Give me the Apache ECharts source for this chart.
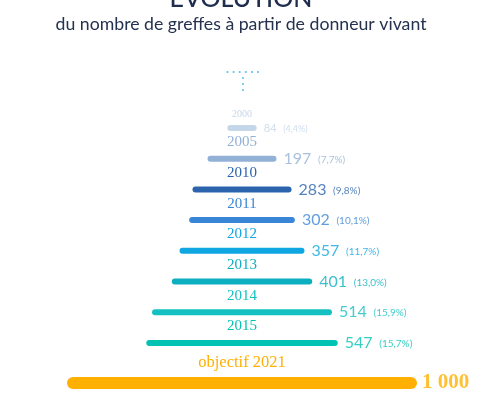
<!DOCTYPE html>
<html>
<head>
<meta charset="UTF-8">
<script src="https://cdn.jsdelivr.net/npm/echarts@6/dist/echarts.min.js"></script>
<title>Évolution</title>
<style>
html, body {
	margin: 0;
	padding: 0;
	background: #ffffff;
}

#main {
	width: 482px;
	height: 398px;
}
</style>
</head>
<body>
	<div id="main"></div>
	<script>
		// données
		var years = [ '2000', '2005', '2010', '2011', '2012', '2013', '2014', '2015' ];
		var counts = [ 84, 197, 283, 302, 357, 401, 514, 547 ];
		var shares = [ '4,4%', '7,7%', '9,8%', '10,1%', '11,7%', '13,0%', '15,9%', '15,7%' ];
		var goalLabel = 'objectif 2021';
		var goalValue = 1000;
		var goalText = '1 000';
		var axisMax = 1000;

		var colors = [ '#c6d6e9', '#93b1d6', '#2b64ad', '#3a86d6', '#0fa6e1',
				'#0cafbf', '#14c1c0', '#02c3b3' ];
		var serifFont = '"Liberation Serif", serif';
		var sansFont = 'Lato, "Noto Sans", sans-serif';

		// décalage pour centrer les barres
		var offsets = counts.map(function(v) {
			return (axisMax - v) / 2;
		});

		var barData = counts.map(function(v, i) {
			var small = i === 0;
			return {
				value : v,
				itemStyle : { color : colors[i] },
				label : {
					color : colors[i],
					fontSize : small ? 10 : 15,
					distance : small ? 6 : 6
				}
			};
		});

		var endData = counts.map(function(v, i) {
			var small = i === 0;
			return {
				value : [ offsets[i] + v, i ],
				label : {
					color : colors[i],
					rich : {
						v : { fontSize : small ? 11 : 16, fontFamily : sansFont, color : colors[i] },
						p : { fontSize : small ? 9 : 10, fontFamily : sansFont, color : colors[i], padding : [ 2, 0, 0, 0 ] }
					}
				}
			};
		});

		var dots = [];
		for (var k = 0; k < 6; k++) {
			dots.push({ type : 'circle', shape : { cx : 227.5 + k * 6.1, cy : 72, r : 1.1 }, style : { fill : '#5ec4ee' } });
		}
		for (var k = 1; k <= 3; k++) {
			dots.push({ type : 'circle', shape : { cx : 243, cy : 72 + k * 6, r : 1.1 }, style : { fill : '#5ec4ee' } });
		}

		var option = {
			animation : false,
			graphic : [ {
				type : 'text',
				left : 'center',
				top : -14,
				style : {
					text : 'ÉVOLUTION',
					font : '500 25px ' + sansFont,
					fill : '#1f2d4e'
				}
			}, {
				type : 'text',
				left : 'center',
				top : 15,
				style : {
					text : 'du nombre de greffes à partir de donneur vivant',
					font : '17.7px ' + sansFont,
					fill : '#24314f'
				}
			} ].concat(dots),
			grid : [ {
				left : 67,
				width : 350,
				top : 112.6,
				height : 245.7
			}, {
				left : 67,
				width : 350,
				top : 368,
				height : 30
			} ],
			xAxis : [ {
				gridIndex : 0,
				type : 'value',
				min : 0,
				max : axisMax,
				show : false
			}, {
				gridIndex : 1,
				type : 'value',
				min : 0,
				max : axisMax,
				show : false
			} ],
			yAxis : [ {
				gridIndex : 0,
				type : 'category',
				inverse : true,
				data : years,
				show : false
			}, {
				gridIndex : 1,
				type : 'category',
				data : [ goalLabel ],
				show : false
			} ],
			series : [ {
				type : 'bar',
				stack : 'rows',
				silent : true,
				barWidth : 6,
				itemStyle : { color : 'transparent' },
				data : offsets
			}, {
				type : 'bar',
				stack : 'rows',
				barWidth : 6,
				itemStyle : { borderRadius : 3 },
				label : {
					show : true,
					position : 'top',
					fontFamily : serifFont,
					formatter : function(p) {
						return years[p.dataIndex];
					}
				},
				data : barData
			}, {
				type : 'scatter',
				symbolSize : 0.1,
				itemStyle : { color : 'transparent' },
				label : {
					show : true,
					position : 'right',
					distance : 7,
					formatter : function(p) {
						return '{v|' + counts[p.dataIndex] + '}  {p|(' + shares[p.dataIndex] + ')}';
					}
				},
				data : endData
			}, {
				type : 'bar',
				xAxisIndex : 1,
				yAxisIndex : 1,
				barWidth : 12,
				itemStyle : { color : '#ffb000', borderRadius : 6 },
				label : {
					show : true,
					position : 'top',
					distance : 6,
					color : '#ffb000',
					fontSize : 16.5,
					fontFamily : serifFont,
					formatter : goalLabel
				},
				data : [ goalValue ]
			}, {
				type : 'scatter',
				xAxisIndex : 1,
				yAxisIndex : 1,
				symbolSize : 0.1,
				itemStyle : { color : 'transparent' },
				label : {
					show : true,
					position : 'right',
					distance : 5,
					color : '#ffb000',
					fontSize : 21,
					fontWeight : 'bold',
					fontFamily : serifFont,
					formatter : goalText
				},
				data : [ [ goalValue, 0 ] ]
			} ]
		};

		var mychart = echarts.init(document.getElementById('main'));
		mychart.setOption(option);
	</script>
</body>
</html>
